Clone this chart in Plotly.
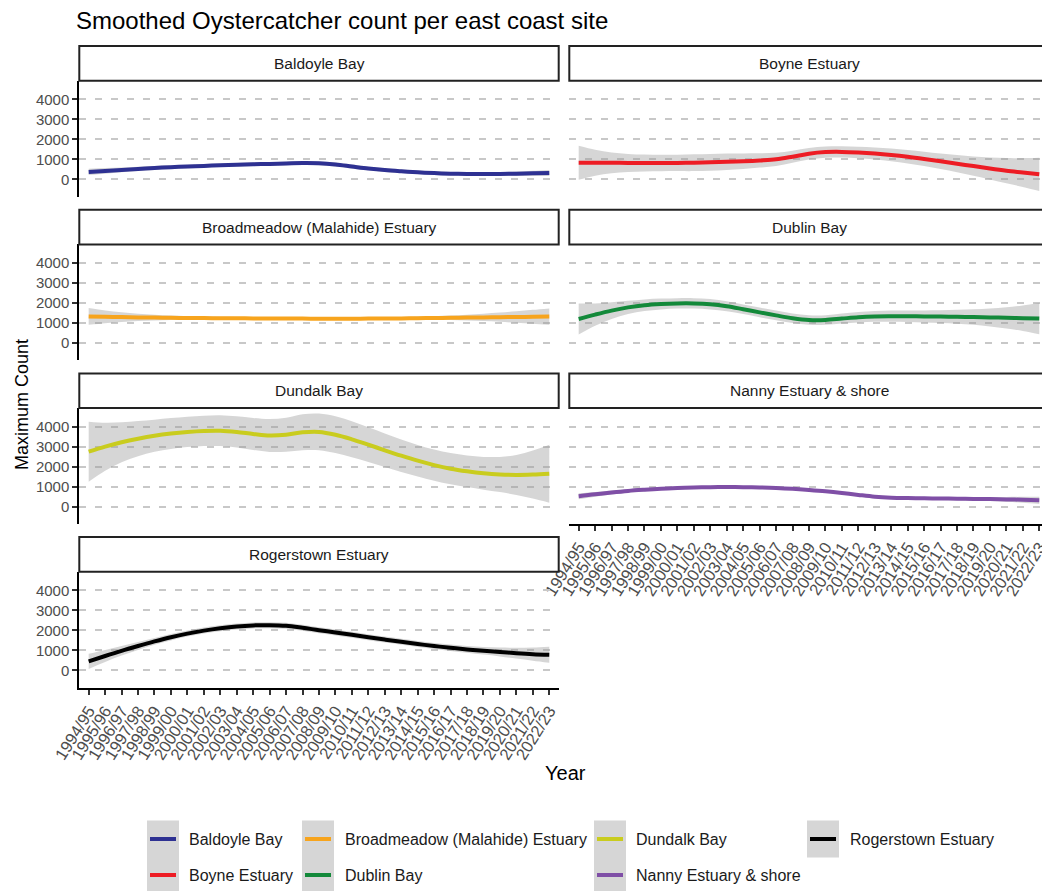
import plotly.graph_objects as go

SEASONS = [
    "1994/95", "1995/96", "1996/97", "1997/98", "1998/99", "1999/00", "2000/01",
    "2001/02", "2002/03", "2003/04", "2004/05", "2005/06", "2006/07", "2007/08",
    "2008/09", "2009/10", "2010/11", "2011/12", "2012/13", "2013/14", "2014/15",
    "2015/16", "2016/17", "2017/18", "2018/19", "2019/20", "2020/21", "2021/22",
    "2022/23",
]

SITES = [
    "Baldoyle Bay", "Boyne Estuary", "Broadmeadow (Malahide) Estuary",
    "Dublin Bay", "Dundalk Bay", "Nanny Estuary & shore", "Rogerstown Estuary",
]
COLORS = ["#2E3192", "#ED1C24", "#F7A41D", "#13893A", "#C9CC1E", "#7F4FA6", "#000000"]

Y_TICKS = [0, 1000, 2000, 3000, 4000]

BALDOYLE_FIT = [370, 420, 470, 520, 565, 605, 640, 670, 700, 725, 750, 770, 790, 810, 800,
                740, 640, 540, 460, 400, 350, 310, 280, 265, 260, 265, 280, 300, 320]
BALDOYLE_LOW = [210, 280, 350, 410, 465, 510, 550, 580, 610, 635, 660, 680, 700, 715, 705,
                645, 545, 450, 370, 310, 260, 220, 190, 175, 165, 165, 170, 170, 170]
BALDOYLE_HIGH = [530, 560, 590, 630, 665, 700, 730, 760, 790, 815, 840, 860, 880, 905, 895,
                 835, 735, 630, 550, 490, 440, 400, 370, 355, 355, 365, 390, 430, 470]

BOYNE_FIT = [830, 830, 825, 820, 815, 815, 820, 830, 850, 875, 905, 945, 1000, 1130, 1280,
             1360, 1370, 1340, 1290, 1220, 1130, 1020, 900, 780, 660, 540, 430, 340, 250]
BOYNE_LOW = [-20, 180, 305, 370, 395, 405, 410, 410, 430, 465, 515, 585, 670, 830, 990,
             1080, 1090, 1050, 990, 900, 790, 660, 510, 350, 180, -10, -200, -380, -580]
BOYNE_HIGH = [1680, 1480, 1345, 1270, 1235, 1225, 1230, 1250, 1270, 1285, 1295, 1305, 1330, 1430, 1570,
              1640, 1650, 1630, 1590, 1540, 1470, 1380, 1290, 1210, 1140, 1090, 1060, 1060, 1080]

BROADMEADOW_FIT = [1330, 1310, 1295, 1280, 1270, 1260, 1250, 1245, 1240, 1235, 1230, 1225, 1220, 1220, 1215,
                   1215, 1215, 1220, 1225, 1230, 1240, 1250, 1260, 1270, 1280, 1290, 1300, 1310, 1320]
BROADMEADOW_LOW = [910, 990, 1055, 1100, 1130, 1150, 1160, 1165, 1165, 1165, 1160, 1155, 1150, 1150, 1145,
                   1145, 1145, 1150, 1155, 1155, 1160, 1160, 1150, 1130, 1100, 1060, 1010, 960, 910]
BROADMEADOW_HIGH = [1750, 1630, 1535, 1460, 1410, 1370, 1340, 1325, 1315, 1305, 1300, 1295, 1290, 1290, 1285,
                    1285, 1285, 1290, 1295, 1305, 1320, 1340, 1370, 1410, 1460, 1520, 1590, 1660, 1730]

DUBLIN_FIT = [1200, 1420, 1620, 1780, 1890, 1950, 1980, 1980, 1940, 1840, 1690, 1530, 1380, 1240, 1150,
              1150, 1220, 1290, 1330, 1340, 1340, 1330, 1320, 1310, 1300, 1280, 1260, 1240, 1220]
DUBLIN_LOW = [420, 860, 1200, 1450, 1600, 1680, 1720, 1720, 1680, 1590, 1450, 1290, 1140, 1000, 910,
              910, 970, 1030, 1060, 1060, 1050, 1030, 1000, 960, 910, 830, 730, 600, 440]
DUBLIN_HIGH = [1980, 1980, 2040, 2110, 2180, 2220, 2240, 2240, 2200, 2090, 1930, 1770, 1620, 1480, 1390,
               1390, 1470, 1550, 1600, 1620, 1630, 1630, 1640, 1660, 1690, 1730, 1790, 1880, 2000]

DUNDALK_FIT = [2750, 3000, 3220, 3400, 3550, 3660, 3740, 3790, 3800, 3740, 3640, 3560, 3600, 3720, 3740,
               3600, 3370, 3100, 2820, 2550, 2300, 2080, 1900, 1770, 1670, 1610, 1590, 1610, 1650]
DUNDALK_LOW = [1250, 1800, 2220, 2520, 2750, 2890, 2980, 3030, 3030, 2960, 2840, 2740, 2750, 2820, 2820,
               2680, 2470, 2230, 1980, 1740, 1510, 1300, 1120, 980, 850, 730, 590, 410, 200]
DUNDALK_HIGH = [4250, 4200, 4220, 4280, 4350, 4430, 4500, 4550, 4570, 4520, 4440, 4380, 4450, 4620, 4660,
                4520, 4270, 3970, 3660, 3360, 3090, 2860, 2680, 2560, 2490, 2490, 2590, 2810, 3100]

NANNY_FIT = [520, 620, 710, 790, 850, 900, 935, 960, 975, 980, 975, 960, 935, 895, 840,
             775, 690, 590, 500, 450, 430, 420, 410, 400, 390, 380, 365, 345, 320]
NANNY_LOW = [370, 500, 610, 705, 775, 830, 870, 895, 910, 915, 910, 895, 870, 830, 775,
             710, 625, 525, 435, 385, 365, 355, 340, 325, 305, 280, 245, 195, 140]
NANNY_HIGH = [670, 740, 810, 875, 925, 970, 1000, 1025, 1040, 1045, 1040, 1025, 1000, 960, 905,
              840, 755, 655, 565, 515, 495, 485, 480, 475, 475, 480, 485, 495, 500]

ROGERSTOWN_FIT = [450, 720, 980, 1220, 1450, 1660, 1840, 1990, 2110, 2200, 2250, 2260, 2230, 2130, 2010,
                  1900, 1780, 1660, 1540, 1430, 1320, 1220, 1130, 1050, 980, 920, 860, 810, 780]
ROGERSTOWN_LOW = [70, 420, 740, 1020, 1280, 1500, 1690, 1840, 1960, 2050, 2100, 2110, 2080, 1980, 1860,
                  1750, 1630, 1510, 1390, 1280, 1170, 1070, 970, 880, 790, 700, 590, 480, 380]
ROGERSTOWN_HIGH = [830, 1020, 1220, 1420, 1620, 1820, 1990, 2140, 2260, 2350, 2400, 2410, 2380, 2280, 2160,
                   2050, 1930, 1810, 1690, 1580, 1470, 1370, 1290, 1220, 1170, 1140, 1130, 1140, 1180]

FITS = [BALDOYLE_FIT, BOYNE_FIT, BROADMEADOW_FIT, DUBLIN_FIT, DUNDALK_FIT, NANNY_FIT, ROGERSTOWN_FIT]
LOWS = [BALDOYLE_LOW, BOYNE_LOW, BROADMEADOW_LOW, DUBLIN_LOW, DUNDALK_LOW, NANNY_LOW, ROGERSTOWN_LOW]
HIGHS = [BALDOYLE_HIGH, BOYNE_HIGH, BROADMEADOW_HIGH, DUBLIN_HIGH, DUNDALK_HIGH, NANNY_HIGH, ROGERSTOWN_HIGH]

# page geometry (pixels)
W, H = 1042, 891
ROW_STEP = 163.7
STRIP_TOP, PLOT_TOP, PLOT_BOTTOM = 46.0, 80.7, 196.7
COL_LEFT = [79.3, 569.3]
PANEL_W = 479.4
UNIT = 16.45  # px per season
X_PAD = 0.57
Y_RANGE = [-870, 4930]

FONT = "Liberation Sans, Arial, sans-serif"
TICK_GREY = "#4D4D4D"


def fx(px):
    return px / W


def fy(py):
    return 1 - py / H


fig = go.Figure()
shapes = []
annotations = []

for i, site in enumerate(SITES):
    row, col = divmod(i, 2)
    n = "" if i == 0 else str(i + 1)
    left = COL_LEFT[col]
    right = min(left + PANEL_W, W)
    top = PLOT_TOP + row * ROW_STEP
    bottom = PLOT_BOTTOM + row * ROW_STEP
    strip_top = STRIP_TOP + row * ROW_STEP
    x_hi = -X_PAD + (right - left) / UNIT
    has_x = site in ("Rogerstown Estuary", "Nanny Estuary & shore")

    fig.add_trace(go.Scatter(
        x=SEASONS, y=HIGHS[i], mode="lines", line=dict(width=0, shape="spline"),
        xaxis="x" + n, yaxis="y" + n, showlegend=False, hoverinfo="skip",
    ))
    fig.add_trace(go.Scatter(
        x=SEASONS, y=LOWS[i], mode="lines", line=dict(width=0, shape="spline"),
        fill="tonexty", fillcolor="rgba(153,153,153,0.4)",
        xaxis="x" + n, yaxis="y" + n, showlegend=False, hoverinfo="skip",
    ))
    fig.add_trace(go.Scatter(
        x=SEASONS, y=FITS[i], mode="lines", name=site,
        line=dict(width=4, color=COLORS[i], shape="spline"),
        xaxis="x" + n, yaxis="y" + n, showlegend=False,
    ))

    fig.update_layout({
        "xaxis" + n: dict(
            domain=[fx(left), fx(right)], anchor="y" + n, type="category",
            categoryorder="array", categoryarray=SEASONS,
            range=[-X_PAD, x_hi], showgrid=False, zeroline=False, automargin=False,
            showline=has_x, linecolor="black", linewidth=2,
            ticks="outside" if has_x else "", ticklen=5, tickwidth=1.5, tickcolor="#333333",
            tickmode="array", tickvals=SEASONS, ticktext=SEASONS,
            showticklabels=has_x, tickangle=-58,
            tickfont=dict(size=16.5, color=TICK_GREY, family=FONT),
        ),
        "yaxis" + n: dict(
            domain=[fy(bottom), fy(top)], anchor="x" + n, range=Y_RANGE,
            tickvals=Y_TICKS, showgrid=True, gridcolor="#C8C8C8", gridwidth=1.5,
            griddash="7px,9px", zeroline=False, automargin=False,
            showline=(col == 0), linecolor="black", linewidth=2,
            ticks="outside" if col == 0 else "", ticklen=5, tickwidth=1.5, tickcolor="#333333",
            showticklabels=(col == 0),
            tickfont=dict(size=15, color=TICK_GREY, family=FONT),
        ),
    })

    # facet strip
    shapes.append(dict(
        type="rect", xref="paper", yref="paper",
        x0=fx(left), x1=fx(left + PANEL_W), y0=fy(top), y1=fy(strip_top),
        line=dict(color="#222222", width=2), fillcolor="white", layer="above",
    ))
    annotations.append(dict(
        text=site, xref="paper", yref="paper", showarrow=False,
        x=fx(min(left + PANEL_W / 2, W)), y=fy((top + strip_top) / 2),
        xanchor="center", yanchor="middle",
        font=dict(size=15.5, color="#1A1A1A", family=FONT),
    ))

# legend drawn by hand (column-major, 2 rows)
LEG_KEY_LEFT = [147, 302, 594, 807]
LEG_TEXT_X = [187, 343, 634, 848]
LEG_ROW_Y = [839, 875]
KEY_W, KEY_H = 32, 37
for k, site in enumerate(SITES):
    c, r = divmod(k, 2)
    kx = LEG_KEY_LEFT[c]
    ky = LEG_ROW_Y[r]
    shapes.append(dict(
        type="rect", xref="paper", yref="paper",
        x0=fx(kx), x1=fx(kx + KEY_W), y0=fy(ky + KEY_H / 2), y1=fy(ky - KEY_H / 2),
        line=dict(width=0), fillcolor="#D6D6D6",
    ))
    shapes.append(dict(
        type="line", xref="paper", yref="paper",
        x0=fx(kx + 3), x1=fx(kx + KEY_W - 3), y0=fy(ky), y1=fy(ky),
        line=dict(color=COLORS[k], width=4),
    ))
    annotations.append(dict(
        text=site, xref="paper", yref="paper", showarrow=False,
        x=fx(LEG_TEXT_X[c]), y=fy(ky), xanchor="left", yanchor="middle",
        font=dict(size=16, color="#1A1A1A", family=FONT),
    ))

annotations += [
    dict(text="Smoothed Oystercatcher count per east coast site", xref="paper", yref="paper",
         x=fx(74), y=fy(20), xanchor="left", yanchor="middle", showarrow=False,
         font=dict(size=24, color="black", family=FONT)),
    dict(text="Maximum Count", xref="paper", yref="paper", textangle=-90,
         x=fx(22), y=fy(405), xanchor="center", yanchor="middle", showarrow=False,
         font=dict(size=18, color="black", family=FONT)),
    dict(text="Year", xref="paper", yref="paper",
         x=fx(565), y=fy(773), xanchor="center", yanchor="middle", showarrow=False,
         font=dict(size=20, color="black", family=FONT)),
]

fig.update_layout(
    width=W, height=H, margin=dict(l=0, r=0, t=0, b=0, autoexpand=False),
    paper_bgcolor="white", plot_bgcolor="white",
    shapes=shapes, annotations=annotations, showlegend=False,
    font=dict(family=FONT),
)

fig.write_html("out.html", config={"displayModeBar": False},
               post_script="document.body.style.margin='0';")
